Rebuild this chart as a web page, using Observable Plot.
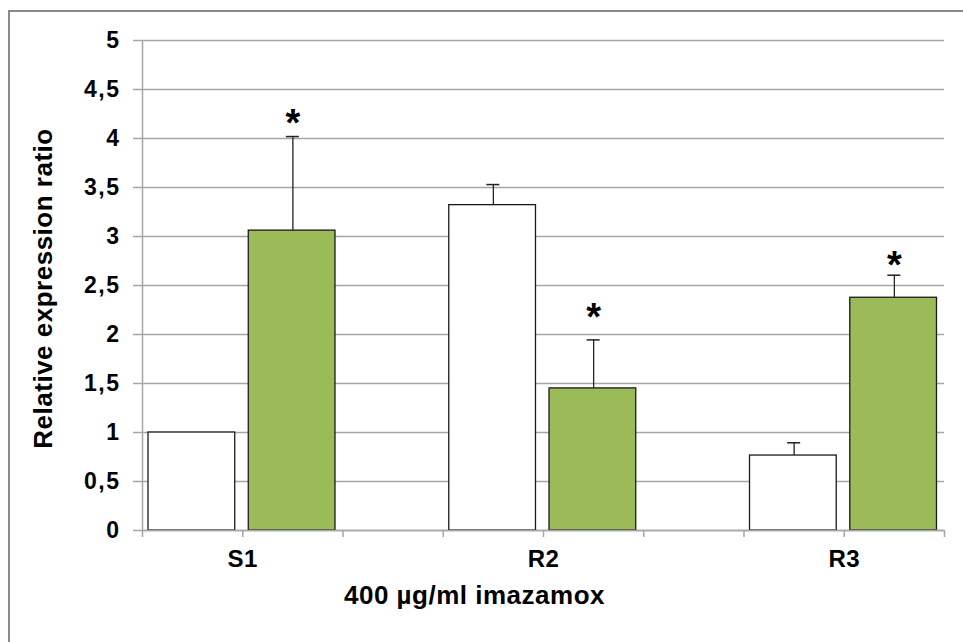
<!DOCTYPE html>
<html>
<head>
<meta charset="utf-8">
<script src="https://cdn.jsdelivr.net/npm/d3@7"></script>
<script src="https://cdn.jsdelivr.net/npm/@observablehq/plot@0.6"></script>
<style>
  html, body { margin: 0; padding: 0; background: #fff; }
  #wrap { position: relative; width: 963px; height: 642px; overflow: hidden; }
  #border { position: absolute; left: 8px; top: 10px; width: 970px; height: 650px;
            border-top: 2px solid #8a8a8a; border-left: 2px solid #8a8a8a; box-sizing: border-box; }
  svg { font-family: "Liberation Sans", Arial, sans-serif; }
</style>
</head>
<body>
<div id="wrap"><div id="border"></div></div>
<script>
const categories = ["S1", "R2", "R3"];
const control = [1.0, 3.32, 0.765];
const controlErr = [0, 0.21, 0.13];
const treated = [3.06, 1.45, 2.375];
const treatedErr = [0.96, 0.495, 0.23];
const starLevel = [4.255, 2.276, 2.806];
const yTicks = [0, 0.5, 1, 1.5, 2, 2.5, 3, 3.5, 4, 4.5, 5];
const yTickLabels = ["0", "0,5", "1", "1,5", "2", "2,5", "3", "3,5", "4", "4,5", "5"];
const xTitle = "400 µg/ml imazamox";
const yTitle = "Relative expression ratio";

const green = "#9BBB59";
const gridColor = "#a6a6a6";

const rows = [];
categories.forEach((c, i) => {
  rows.push({cat: c, slot: i * 3, value: control[i], err: controlErr[i], fill: "#ffffff"});
  rows.push({cat: c, slot: i * 3 + 1, value: treated[i], err: treatedErr[i], fill: green});
});
const errRows = rows.filter(d => d.err > 0);
const stars = categories.map((c, i) => ({slot: i * 3 + 1, y: starLevel[i]}));
const labels = categories.map((c, i) => ({x: i * 3 + 1, text: c}));
const yLabels = yTicks.map((v, i) => ({y: v, text: yTickLabels[i]}));
const capHalf = 0.065;

const chart = Plot.plot({
  width: 963,
  height: 642,
  marginLeft: 142,
  marginRight: 19,
  marginTop: 40,
  marginBottom: 112,
  x: {domain: [0, 8], axis: null},
  y: {domain: [0, 5], axis: null},
  marks: [
    Plot.ruleY(yTicks, {x1: 0, x2: 8, stroke: gridColor, strokeWidth: 1.5}),
    Plot.ruleX([0], {y1: 0, y2: 5, stroke: gridColor, strokeWidth: 1.5}),
    Plot.axisY({ticks: yTicks, tickSize: 9, tickFormat: () => "", label: null,
      stroke: gridColor, strokeWidth: 1.5}),
    Plot.text(yLabels, {y: "y", text: "text", frameAnchor: "left", dx: -22, textAnchor: "end",
      fontSize: 23, fontWeight: "bold", fill: "#000", ariaDescription: "ytl"}),
    Plot.axisX({ticks: [0,1,2,3,4,5,6,7,8], tickSize: 7, tickFormat: () => "", label: null,
      stroke: gridColor, strokeWidth: 1.5}),
    Plot.ruleX(errRows, {x: d => d.slot + 0.5, y1: d => d.value, y2: d => d.value + d.err,
      stroke: "#222", strokeWidth: 1.3}),
    Plot.ruleY(errRows, {x1: d => d.slot + 0.5 - capHalf, x2: d => d.slot + 0.5 + capHalf,
      y: d => d.value + d.err, stroke: "#222", strokeWidth: 1.5}),
    Plot.rectY(rows, {x1: d => d.slot + 0.06, x2: d => d.slot + 0.925, y1: 0, y2: d => d.value,
      fill: d => d.fill, stroke: "#1a1a1a", strokeWidth: 1.3}),
    Plot.ruleY([0], {x1: 0, x2: 8, stroke: gridColor, strokeWidth: 1.5}),
    Plot.text(stars, {x: d => d.slot + 0.5, y: "y", text: () => "*", fontSize: 38, fontWeight: "bold",
      fill: "#000", dy: 10}),
    Plot.text(labels, {x: "x", text: "text", frameAnchor: "bottom", dy: 36, fontSize: 24,
      fontWeight: "bold", fill: "#000", ariaDescription: "xcat"}),
    Plot.text([xTitle], {frameAnchor: "bottom", dx: -69, dy: 73, fontSize: 26, fontWeight: "bold",
      fill: "#000", ariaDescription: "xtitle"}),
    Plot.text([yTitle], {frameAnchor: "left", textAnchor: "middle", dx: -99, dy: 3, rotate: -90,
      fontSize: 26, fontWeight: "bold", fill: "#000", ariaDescription: "ytitle"})
  ]
});
const sel = d3.select(chart);
const spacing = {ytl: "1.5px", xcat: "0.5px", xtitle: "0.5px", ytitle: "0.5px"};
Object.entries(spacing).forEach(([k, v]) => {
  sel.selectAll(`g[aria-description="${k}"] text`).style("letter-spacing", v);
});
document.getElementById("wrap").appendChild(chart);
</script>
</body>
</html>
